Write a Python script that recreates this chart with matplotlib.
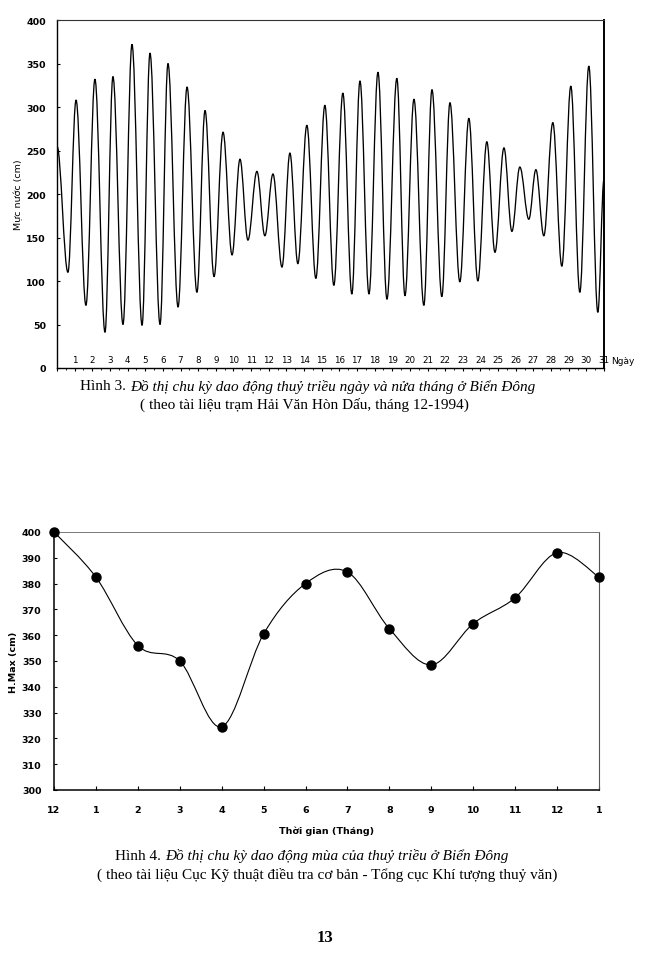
import matplotlib
matplotlib.use("Agg")
import matplotlib.pyplot as plt
from matplotlib.path import Path
from matplotlib.patches import PathPatch

# Hinh 3: turning points of the water level, Dec 1994 (day of month, cm)
start_day, start_level = 0.0, 255
end_day, end_level = 31.0, 217
trough_days = [0.62, 1.64, 2.72, 3.74, 4.82, 5.84, 6.86, 7.93, 8.90, 9.92, 10.82,
               11.78, 12.75, 13.65, 14.67, 15.69, 16.71, 17.68, 18.70, 19.72, 20.79,
               21.81, 22.83, 23.85, 24.82, 25.78, 26.74, 27.59, 28.61, 29.63, 30.65]
trough_levels = [110, 72, 41, 50, 49, 50, 70, 87, 105, 130, 147,
                 152, 116, 120, 103, 95, 85, 85, 79, 83, 72,
                 82, 99, 100, 133, 157, 171, 152, 117, 87, 64]
peak_days = [1.08, 2.15, 3.17, 4.25, 5.27, 6.29, 7.37, 8.39, 9.41, 10.37,
             11.33, 12.24, 13.20, 14.16, 15.18, 16.20, 17.17, 18.19, 19.26, 20.23,
             21.25, 22.27, 23.34, 24.36, 25.33, 26.23, 27.14, 28.10, 29.12, 30.14]
peak_levels = [308, 332, 335, 372, 362, 350, 323, 296, 271, 240,
               226, 223, 247, 279, 302, 316, 330, 340, 333, 309,
               320, 305, 287, 260, 253, 231, 228, 282, 324, 347]
day_labels = [str(d) for d in range(1, 32)]

# Hinh 4: seasonal H.Max (cm)
month_labels = ["12", "1", "2", "3", "4", "5", "6", "7", "8", "9", "10", "11", "12", "1"]
hmax = [400, 382.5, 356, 350, 324.5, 360.5, 380, 384.5, 362.5, 348.5, 364.5, 374.5, 392, 382.5]

serif = "Liberation Serif"
sans = "DejaVu Sans"
cap_size = 11

fig = plt.figure(figsize=(6.58, 9.54), dpi=100)
fig.patch.set_facecolor("white")

# ---------------- top chart ----------------
ax1 = fig.add_axes([57 / 658, 1 - 369 / 954, 547 / 658, 348 / 954])

# order the turning points in time
pts = [(start_day, start_level)]
for i in range(len(trough_days)):
    pts.append((trough_days[i], trough_levels[i]))
    if i < len(peak_days):
        pts.append((peak_days[i], peak_levels[i]))
pts.append((end_day, end_level))

verts = [pts[0]]
codes = [Path.MOVETO]
for (t0, h0), (t1, h1) in zip(pts[:-1], pts[1:]):
    dt = t1 - t0
    verts += [(t0 + 0.364 * dt, h0), (t1 - 0.364 * dt, h1), (t1, h1)]
    codes += [Path.CURVE4] * 3
ax1.add_patch(PathPatch(Path(verts, codes), facecolor="none", edgecolor="black",
                        lw=0.95, transform=ax1.transData))

ax1.set_xlim(0, 31)
ax1.set_ylim(0, 400)
ax1.set_yticks(range(0, 401, 50))
ax1.set_yticklabels([str(v) for v in range(0, 401, 50)], fontsize=6.8,
                    family=sans, weight="bold")
ax1.set_xticks(range(0, 32))
ax1.set_xticklabels([])
ax1.set_xticks([d + 0.5 for d in range(31)], minor=True)
ax1.tick_params(axis="y", direction="in", length=2, pad=8)
ax1.tick_params(axis="x", which="major", direction="out", length=2.5, width=0.8)
ax1.tick_params(axis="x", which="minor", direction="out", length=1.5, width=0.6)
for d, lab in enumerate(day_labels, start=1):
    ax1.text(d, 5, lab, ha="center", va="bottom", fontsize=6.3, family=sans)
ax1.text(31.4, 4, "Ngày", ha="left", va="bottom", fontsize=6.5, family=sans,
         clip_on=False)
ax1.set_ylabel("Mực nước (cm)", fontsize=6.8, family=sans, labelpad=2)
for s in ["left", "bottom"]:
    ax1.spines[s].set_linewidth(1.0)
ax1.spines["right"].set_linewidth(1.4)
ax1.spines["top"].set_linewidth(0.8)
ax1.spines["top"].set_color("#333333")

# ---------------- bottom chart ----------------
ax2 = fig.add_axes([54 / 658, 1 - 791 / 954, 545 / 658, 258 / 954])
xs = list(range(len(hmax)))
P = list(zip(xs, hmax))
verts = [P[0]]
codes = [Path.MOVETO]
for i in range(len(P) - 1):
    p0 = P[i - 1] if i > 0 else P[i]
    p1, p2 = P[i], P[i + 1]
    p3 = P[i + 2] if i + 2 < len(P) else P[i + 1]
    c1 = (p1[0] + (p2[0] - p0[0]) / 6, p1[1] + (p2[1] - p0[1]) / 6)
    c2 = (p2[0] - (p3[0] - p1[0]) / 6, p2[1] - (p3[1] - p1[1]) / 6)
    verts += [c1, c2, p2]
    codes += [Path.CURVE4] * 3
ax2.add_patch(PathPatch(Path(verts, codes), facecolor="none", edgecolor="black",
                        lw=0.8, transform=ax2.transData))
ax2.plot(xs, hmax, "o", color="black", markersize=6.5, clip_on=False, zorder=3)

ax2.set_xlim(0, len(hmax) - 1)
ax2.set_ylim(300, 400)
ax2.set_yticks(range(300, 401, 10))
ax2.set_yticklabels([str(v) for v in range(300, 401, 10)], fontsize=6.8,
                    family=sans, weight="bold")
ax2.set_xticks(xs)
ax2.set_xticklabels(month_labels, fontsize=6.8, family=sans, weight="bold")
ax2.tick_params(axis="y", direction="in", length=2, pad=9)
ax2.tick_params(axis="x", direction="in", length=3, pad=11)
ax2.set_xlabel("Thời gian (Tháng)", fontsize=6.8, family=sans, weight="bold",
               labelpad=8)
ax2.set_ylabel("H.Max (cm)", fontsize=6.8, family=sans, weight="bold", labelpad=3)
ax2.spines["left"].set_linewidth(1.1)
ax2.spines["bottom"].set_linewidth(1.1)
ax2.spines["top"].set_linewidth(0.7)
ax2.spines["top"].set_color("#777777")
ax2.spines["right"].set_linewidth(0.8)
ax2.spines["right"].set_color("#555555")


# ---------------- captions ----------------
def caption(x, y, head, body):
    t = fig.text(x / 658, 1 - y / 954, head, family=serif, fontsize=cap_size,
                 ha="left", va="center")
    ax1.annotate(body, xy=(1, 0), xycoords=t, ha="left", va="bottom",
                 family=serif, fontsize=cap_size, style="italic", annotation_clip=False)


caption(80, 387, "Hình 3. ", "Đồ thị chu kỳ dao động thuỷ triều ngày và nửa tháng ở Biển Đông")
fig.text(140 / 658, 1 - 405 / 954, "( theo tài liệu trạm Hải Văn Hòn Dấu, tháng 12-1994)",
         family=serif, fontsize=cap_size, ha="left", va="center")
caption(115, 857, "Hình 4. ", "Đồ thị chu kỳ dao động mùa của thuỷ triều ở Biển Đông")
fig.text(97 / 658, 1 - 875 / 954,
         "( theo tài liệu Cục Kỹ thuật điều tra cơ bản - Tổng cục Khí tượng thuỷ văn)",
         family=serif, fontsize=cap_size, ha="left", va="center")
fig.text(325 / 658, 1 - 938 / 954, "13", family=serif, fontsize=12, weight="bold",
         ha="center", va="center")

fig.savefig("out.png", dpi=100)
